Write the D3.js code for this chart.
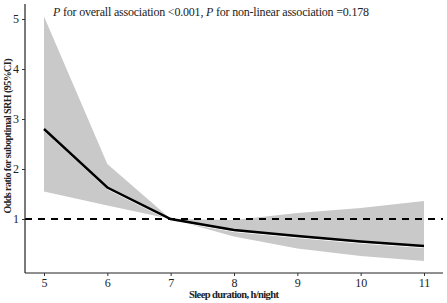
<!DOCTYPE html>
<html>
<head>
<meta charset="utf-8">
<script src="https://cdn.jsdelivr.net/npm/d3@7"></script>
<style>
  body { margin: 0; background: #fff; }
  text { font-family: "Liberation Serif", "Times New Roman", serif; fill: #222; }
</style>
</head>
<body>
<div id="chart"></div>
<script>
// Sleep duration (h/night) and odds ratio with 95% CI
var hours = [5, 6, 7, 8, 9, 10, 11];
var oddsRatio = [2.80, 1.63, 1.00, 0.78, 0.66, 0.55, 0.46];
var upperCI = [5.05, 2.10, 1.00, 0.98, 1.12, 1.22, 1.36];
var lowerCI = [1.55, 1.27, 1.00, 0.65, 0.41, 0.26, 0.16];
var xTicks = [5, 6, 7, 8, 9, 10, 11];
var yTicks = [1, 2, 3, 4, 5];

var width = 447, height = 303;
var margin = {left: 25, right: 4, top: 4, bottom: 30};

var svg = d3.select("#chart").append("svg")
  .attr("width", width)
  .attr("height", height);

var xScale = d3.scaleLinear()
  .domain([4.7, 11.3])
  .range([margin.left, width - margin.right]);

var yScale = d3.scaleLinear()
  .domain([-0.08, 5.3])
  .range([height - margin.bottom, margin.top]);

var rows = hours.map(function(h, i) {
  return {x: h, y: oddsRatio[i], lo: lowerCI[i], hi: upperCI[i]};
});

// confidence band
svg.append("path")
  .datum(rows)
  .attr("fill", "#c9c9c9")
  .attr("d", d3.area()
    .x(function(d) { return xScale(d.x); })
    .y0(function(d) { return yScale(d.lo); })
    .y1(function(d) { return yScale(d.hi); }));

var line = d3.line()
  .x(function(d) { return xScale(d.x); })
  .y(function(d) { return yScale(d.y); });

// thin white edge under the estimate line
svg.append("path")
  .datum(rows)
  .attr("fill", "none")
  .attr("stroke", "#fff")
  .attr("stroke-width", 1)
  .attr("transform", "translate(0,1.6)")
  .attr("d", line);

svg.append("path")
  .datum(rows)
  .attr("fill", "none")
  .attr("stroke", "#000")
  .attr("stroke-width", 2.4)
  .attr("d", line);

// reference line at OR = 1
svg.append("line")
  .attr("x1", margin.left)
  .attr("x2", width - margin.right)
  .attr("y1", yScale(1))
  .attr("y2", yScale(1))
  .attr("stroke", "#000")
  .attr("stroke-width", 2)
  .attr("stroke-dasharray", "7,6");

// axes
var xAxis = svg.append("g")
  .attr("transform", "translate(0," + (height - margin.bottom) + ")")
  .call(d3.axisBottom(xScale).tickValues(xTicks).tickFormat(d3.format("d"))
    .tickSize(3).tickPadding(2));

var yAxis = svg.append("g")
  .attr("transform", "translate(" + margin.left + ",0)")
  .call(d3.axisLeft(yScale).tickValues(yTicks).tickFormat(d3.format("d"))
    .tickSize(3).tickPadding(3));

// plain axis lines without outer ticks
xAxis.select(".domain").attr("d", "M" + margin.left + ",0H" + (width - margin.right));
yAxis.select(".domain").attr("d", "M0," + (height - margin.bottom) + "V" + margin.top);

[xAxis, yAxis].forEach(function(ax) {
  ax.select(".domain").attr("stroke", "#222").attr("stroke-width", 1.2);
  ax.selectAll(".tick line").attr("stroke", "#333");
  ax.selectAll(".tick text")
    .style("font-family", "'Liberation Serif', serif")
    .style("font-size", "12px")
    .attr("fill", "#333");
});

// axis titles
svg.append("text")
  .attr("x", (margin.left + width - margin.right) / 2)
  .attr("y", 298)
  .attr("text-anchor", "middle")
  .attr("textLength", 90)
  .style("font-size", "10.5px")
  .style("font-weight", "bold")
  .text("Sleep duration, h/night");

svg.append("text")
  .attr("transform", "translate(7," + 136 + ") rotate(-90)")
  .attr("dy", "0.35em")
  .attr("text-anchor", "middle")
  .attr("textLength", 155)
  .style("font-size", "10px")
  .style("font-weight", "bold")
  .text("Odds ratio for suboptimal SRH (95%CI)");

// p-value annotation
var note = svg.append("text")
  .attr("x", 53)
  .attr("y", 16)
  .attr("textLength", 316)
  .style("font-size", "12px");
note.append("tspan").style("font-style", "italic").text("P");
note.append("tspan").text(" for overall association <0.001, ");
note.append("tspan").style("font-style", "italic").text("P");
note.append("tspan").text(" for non-linear association =0.178");
</script>
</body>
</html>
